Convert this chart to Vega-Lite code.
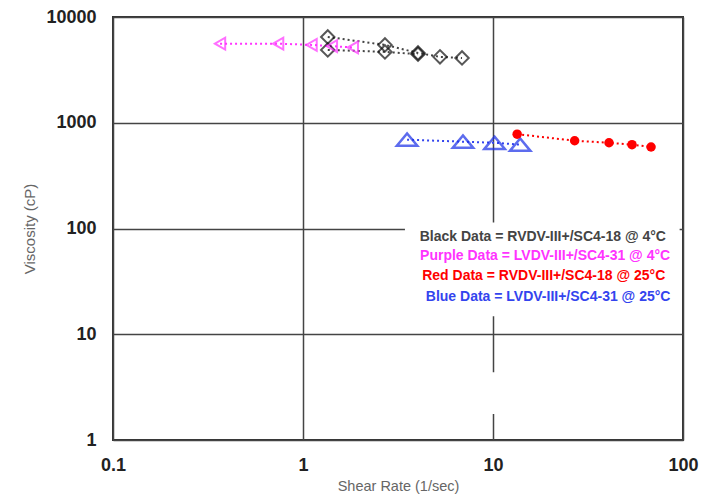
{
  "$schema": "https://vega.github.io/schema/vega-lite/v6.json",
  "width": 570,
  "height": 423,
  "autosize": {"type": "none"},
  "padding": {"left": 113, "top": 17, "right": 34, "bottom": 62},
  "background": "white",
  "config": {
    "view": {"stroke": "#333333", "strokeWidth": 2},
    "font": "Liberation Sans"
  },
  "datasets": {
    "pts": [
      {"series": "Black", "run": "B1", "x": 1.35, "y": 6475},
      {"series": "Black", "run": "B1", "x": 2.7, "y": 5450},
      {"series": "Black", "run": "B1", "x": 4.03, "y": 4575},
      {"series": "Black", "run": "B1", "x": 5.26, "y": 4200},
      {"series": "Black", "run": "B1", "x": 6.87, "y": 4100},
      {"series": "Black", "run": "B2", "x": 1.35, "y": 4886},
      {"series": "Black", "run": "B2", "x": 2.7, "y": 4677},
      {"series": "Black", "run": "B2", "x": 4.03, "y": 4450},
      {"series": "Purple", "run": "P1", "x": 0.366, "y": 5600},
      {"series": "Purple", "run": "P1", "x": 0.74, "y": 5600},
      {"series": "Purple", "run": "P1", "x": 1.11, "y": 5450},
      {"series": "Purple", "run": "P1", "x": 1.42, "y": 5300},
      {"series": "Purple", "run": "P1", "x": 1.83, "y": 5150},
      {"series": "Blue", "run": "L1", "x": 3.53, "y": 692},
      {"series": "Blue", "run": "L1", "x": 6.95, "y": 662},
      {"series": "Blue", "run": "L1", "x": 10.2, "y": 647},
      {"series": "Blue", "run": "L1", "x": 13.9, "y": 620},
      {"series": "Red", "run": "R1", "x": 13.4, "y": 780},
      {"series": "Red", "run": "R1", "x": 26.9, "y": 676},
      {"series": "Red", "run": "R1", "x": 40.8, "y": 647},
      {"series": "Red", "run": "R1", "x": 53.9, "y": 620},
      {"series": "Red", "run": "R1", "x": 67.9, "y": 590}
    ],
    "notes": [
      {"series": "Black", "x": 18.3, "y": 84, "label": "Black Data = RVDV-III+/SC4-18 @ 4°C"},
      {"series": "Purple", "x": 18.8, "y": 54.4, "label": "Purple Data = LVDV-III+/SC4-31 @ 4°C"},
      {"series": "Red", "x": 18.5, "y": 35.2, "label": "Red Data = RVDV-III+/SC4-18 @ 25°C"},
      {"series": "Blue", "x": 19.5, "y": 22.3, "label": "Blue Data = LVDV-III+/SC4-31 @ 25°C"}
    ]
  },
  "layer": [
    {
      "data": {"name": "pts"},
      "mark": {"type": "line", "strokeDash": [2, 3], "strokeWidth": 2},
      "encoding": {
        "x": {
          "field": "x", "type": "quantitative",
          "scale": {"type": "log", "domain": [0.1, 100], "nice": false},
          "axis": {
            "values": [0.1, 1, 10, 100],
            "gridValues": [1, 10],
            "format": "~g",
            "grid": true, "gridColor": "#444444", "gridWidth": 1.5, "gridOpacity": 1,
            "domain": false, "ticks": false,
            "labelFont": "Liberation Sans", "labelFontSize": 18, "labelFontWeight": "bold", "labelColor": "#222222",
            "labelPadding": 16, "labelFlush": false,
            "title": "Shear Rate (1/sec)", "titleFont": "Liberation Sans", "titleFontSize": 14.5,
            "titleFontWeight": "normal", "titleColor": "#666666", "titlePadding": 5
          }
        },
        "y": {
          "field": "y", "type": "quantitative",
          "scale": {"type": "log", "domain": [1, 10000], "nice": false},
          "axis": {
            "values": [1, 10, 100, 1000, 10000],
            "gridValues": [10, 100, 1000],
            "format": "d",
            "grid": true, "gridColor": "#444444", "gridWidth": 1.5, "gridOpacity": 1,
            "domain": false, "ticks": false,
            "labelFont": "Liberation Sans", "labelFontSize": 18, "labelFontWeight": "bold", "labelColor": "#222222",
            "labelPadding": 17, "labelFlush": false,
            "title": "Viscosity (cP)", "titleFont": "Liberation Sans", "titleFontSize": 15,
            "titleFontWeight": "normal", "titleColor": "#666666", "titlePadding": 8
          }
        },
        "color": {
          "field": "series", "type": "nominal",
          "scale": {"domain": ["Black", "Purple", "Red", "Blue"], "range": ["#444444", "#ff33ff", "#ff0000", "#3344ee"]},
          "legend": null
        },
        "detail": {"field": "run"},
        "order": {"field": "x", "type": "quantitative"}
      }
    },
    {
      "data": {"values": [{}]},
      "mark": {"type": "rect", "fill": "white", "strokeWidth": 0},
      "encoding": {
        "x": {"datum": 3.44, "type": "quantitative"},
        "x2": {"datum": 96},
        "y": {"datum": 114, "type": "quantitative"},
        "y2": {"datum": 14.8}
      }
    },
    {
      "data": {"values": [{}]},
      "mark": {"type": "rect", "fill": "white", "strokeWidth": 0},
      "encoding": {
        "x": {"datum": 3.88, "type": "quantitative"},
        "x2": {"datum": 63},
        "y": {"datum": 4.38, "type": "quantitative"},
        "y2": {"datum": 1.76}
      }
    },
    {
      "data": {"name": "pts"},
      "transform": [{"filter": "datum.series === 'Black'"}],
      "mark": {"type": "point", "shape": "diamond", "filled": false, "stroke": "#111111", "strokeWidth": 2, "size": 180},
      "encoding": {
        "x": {"field": "x", "type": "quantitative"},
        "y": {"field": "y", "type": "quantitative"}
      }
    },
    {
      "data": {"name": "pts"},
      "transform": [{"filter": "datum.series === 'Purple'"}],
      "mark": {"type": "point", "shape": "triangle-left", "filled": false, "stroke": "#ff33ff", "strokeWidth": 2, "size": 140},
      "encoding": {
        "x": {"field": "x", "type": "quantitative"},
        "y": {"field": "y", "type": "quantitative"}
      }
    },
    {
      "data": {"name": "pts"},
      "transform": [{"filter": "datum.series === 'Blue'"}],
      "mark": {"type": "point", "shape": "M-1,0.6L0,-0.6L1,0.6Z", "filled": false, "stroke": "#1a2fe8", "strokeWidth": 2.5, "size": 420},
      "encoding": {
        "x": {"field": "x", "type": "quantitative"},
        "y": {"field": "y", "type": "quantitative"}
      }
    },
    {
      "data": {"name": "pts"},
      "transform": [{"filter": "datum.series === 'Red'"}],
      "mark": {"type": "point", "shape": "circle", "filled": true, "color": "#ff0000", "opacity": 1, "size": 90},
      "encoding": {
        "x": {"field": "x", "type": "quantitative"},
        "y": {"field": "y", "type": "quantitative"}
      }
    },
    {
      "data": {"name": "notes"},
      "mark": {"type": "text", "font": "Liberation Sans", "fontSize": 14, "fontWeight": "bold", "align": "center", "baseline": "middle"},
      "encoding": {
        "x": {"field": "x", "type": "quantitative"},
        "y": {"field": "y", "type": "quantitative"},
        "text": {"field": "label"},
        "color": {
          "field": "series", "type": "nominal",
          "scale": {"domain": ["Black", "Purple", "Red", "Blue"], "range": ["#222222", "#ff33ff", "#ff0000", "#2233ee"]},
          "legend": null
        }
      }
    }
  ]
}
